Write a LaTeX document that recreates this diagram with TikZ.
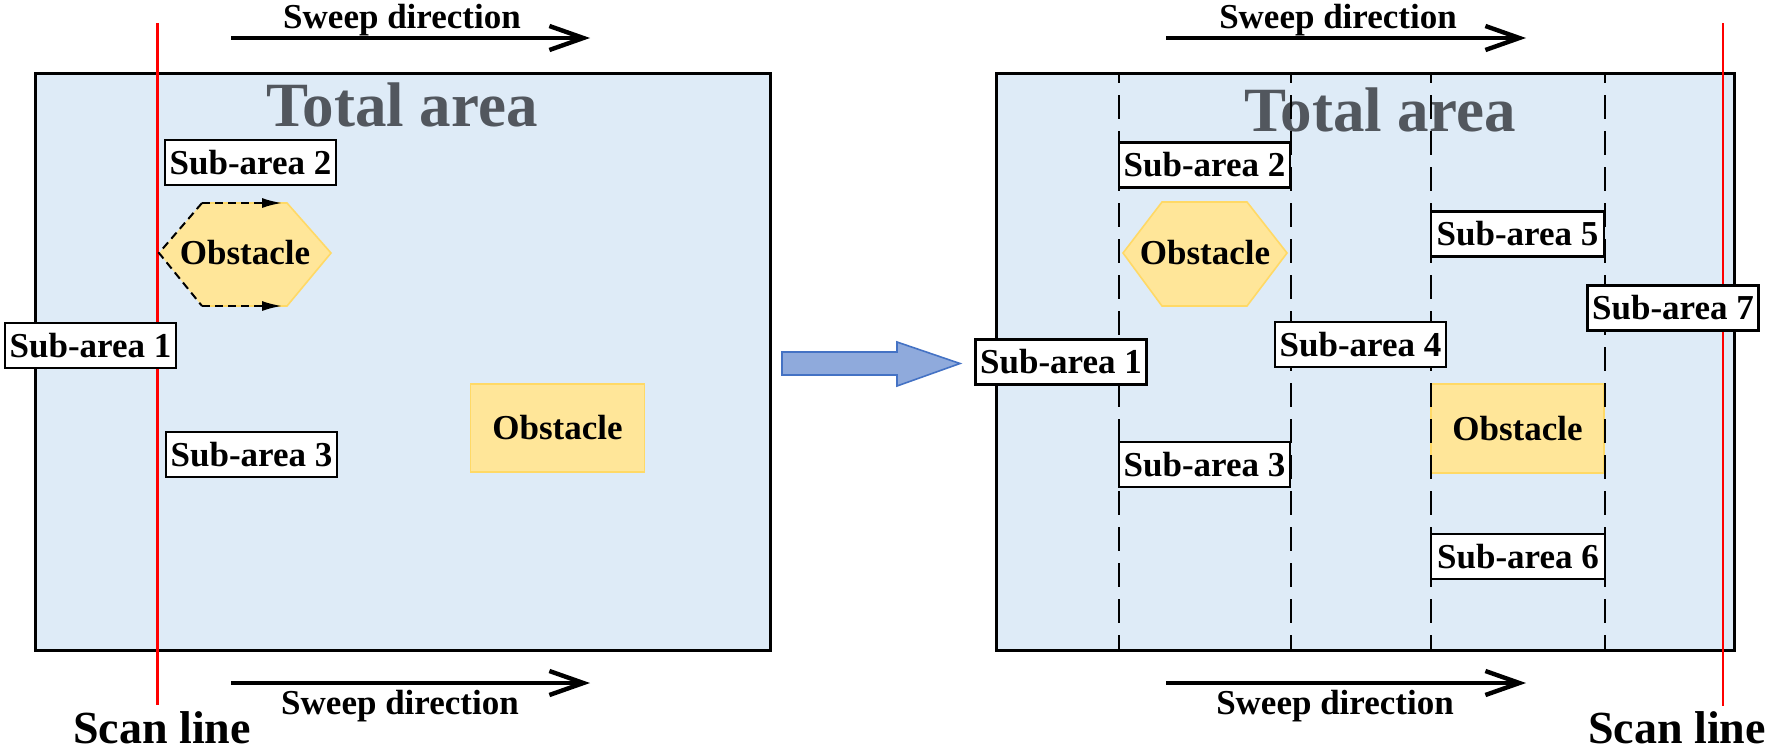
\documentclass[tikz,border=0pt]{standalone}
\usepackage{fontspec}
\setmainfont{Liberation Serif}
\usetikzlibrary{arrows.meta}
\definecolor{areabg}{HTML}{DEEBF7}
\definecolor{obsfill}{HTML}{FFE699}
\definecolor{obsline}{HTML}{FFD966}
\definecolor{titlegray}{HTML}{52575E}
\definecolor{arrfill}{HTML}{8FAADC}
\definecolor{arrline}{HTML}{4472C4}
\definecolor{scanred}{HTML}{FF0000}
\begin{document}
\begin{tikzpicture}[x=0.5pt,y=-0.5pt,
  area/.style={draw=black,line width=1.5pt,fill=areabg},
  lblfont/.style={font=\fontsize{17.5}{20}\selectfont\bfseries},
  subbox/.style={lblfont,draw=black,line width=1.1pt,fill=white,minimum width=85.5pt,minimum height=22.5pt,inner sep=0pt},
  obsbox/.style={lblfont,draw=obsline,line width=0.8pt,fill=obsfill,minimum width=87pt,minimum height=44pt,inner sep=0pt},
  titletext/.style={font=\fontsize{31.5}{36}\selectfont\bfseries,text=titlegray,anchor=base,inner sep=0pt},
  sweeptext/.style={lblfont,anchor=base,inner sep=0pt},
  scantext/.style={font=\fontsize{23}{26}\selectfont\bfseries,anchor=base,inner sep=0pt},
  sweeparrow/.style={line width=2.2pt,-{Straight Barb[length=17pt,width=12pt]}},
  scanline/.style={draw=scanred,line width=1.2pt},
  divline/.style={draw=black,line width=1.4pt,dash pattern=on 12pt off 6pt,dash phase=7pt},
  hexdash/.style={draw=black,line width=1pt,dash pattern=on 4pt off 2.5pt},
  bigarrow/.style={fill=arrfill,draw=arrline,line width=0.8pt}
]
\useasboundingbox (0,0) rectangle (1770,750);

% ================= LEFT =================
\path[area] (35,73) rectangle (770,650);
\node[titletext] (tal) at (402,126) {Total area};

% scan line (left)
\coordinate (scl1) at (157.5,23);
\coordinate (scl2) at (157.5,705);
\draw[scanline] (scl1) -- (scl2);

% hexagon obstacle (left)
\coordinate (hl1) at (159,253);
\coordinate (hl2) at (202,203);
\coordinate (hl3) at (287,203);
\coordinate (hl4) at (331,253);
\coordinate (hl5) at (287,306);
\coordinate (hl6) at (202,306);
\fill[obsfill] (hl1) -- (hl2) -- (hl3) -- (hl4) -- (hl5) -- (hl6) -- cycle;
\draw[obsline,line width=0.8pt] (hl2) -- (hl3) -- (hl4) -- (hl5) -- (hl6);
\draw[hexdash] (hl2) -- (hl1) -- (hl6);
\coordinate (hlt) at (282,203);
\coordinate (hlb) at (282,306);
\draw[hexdash,-{Latex[length=10pt,width=5pt]}] (hl2) -- (hlt);
\draw[hexdash,-{Latex[length=10pt,width=5pt]}] (hl6) -- (hlb);
\node[lblfont,inner sep=0pt] (hexl) at (245,253) {Obstacle};

% rectangular obstacle (left)
\node[obsbox] (obsl) at (557.5,428) {Obstacle};

% sub-areas (left)
\node[subbox] (sa1l) at (90.5,345.5) {Sub-area 1};
\node[subbox] (sa2l) at (250.5,162.5) {Sub-area 2};
\node[subbox] (sa3l) at (251.5,454.5) {Sub-area 3};

% sweep arrows (left)
\coordinate (swla1) at (231,38);
\coordinate (swla2) at (590,38);
\draw[sweeparrow] (swla1) -- (swla2);
\node[sweeptext] (swlt) at (402,28) {Sweep direction};
\coordinate (swlb1) at (231,683);
\coordinate (swlb2) at (590,683);
\draw[sweeparrow] (swlb1) -- (swlb2);
\node[sweeptext] (swlbt) at (400,714) {Sweep direction};
\node[scantext] (scanl) at (162,743) {Scan line};

% ================= TRANSITION ARROW =================
\draw[bigarrow] (782,352) -- (897,352) -- (897,342) -- (960,363.5) -- (897,386) -- (897,375) -- (782,375) -- cycle;

% ================= RIGHT =================
\path[area] (996,73) rectangle (1734,650);
\node[titletext] (tar) at (1380,131) {Total area};

% hexagon obstacle (right)
\coordinate (hr1) at (1123,253);
\coordinate (hr2) at (1162,202);
\coordinate (hr3) at (1247,202);
\coordinate (hr4) at (1287,253);
\coordinate (hr5) at (1247,306);
\coordinate (hr6) at (1162,306);
\path[fill=obsfill,draw=obsline,line width=0.8pt] (hr1) -- (hr2) -- (hr3) -- (hr4) -- (hr5) -- (hr6) -- cycle;

% rectangular obstacle (right)
\node[obsbox,minimum width=86.5pt,minimum height=44.5pt] (obsr) at (1517.5,428.5) {};

% division lines
\foreach \xx/\nm in {1119/d1,1291/d2,1431/d3,1605/d4}{
  \coordinate (\nm t) at (\xx,73);
  \coordinate (\nm b) at (\xx,650);
  \draw[divline] (\nm t) -- (\nm b);
}
\node[lblfont,inner sep=0pt] (hexr) at (1205,253) {Obstacle};
\node[lblfont,inner sep=0pt] (obsrt) at (obsr.center) {Obstacle};

% scan line (right)
\coordinate (scr1) at (1723,23);
\coordinate (scr2) at (1723,706);
\draw[scanline] (scr1) -- (scr2);

% sub-areas (right)
\node[subbox] (sa1r) at (1061,362) {Sub-area 1};
\node[subbox] (sa2r) at (1204.5,165) {Sub-area 2};
\node[subbox] (sa3r) at (1204.5,464.5) {Sub-area 3};
\node[subbox] (sa4r) at (1360.5,344.5) {Sub-area 4};
\node[subbox,minimum width=86.5pt] (sa5r) at (1517.5,234) {Sub-area 5};
\node[subbox,minimum width=87pt] (sa6r) at (1518,556.5) {Sub-area 6};
\node[subbox] (sa7r) at (1673,308) {Sub-area 7};

% sweep arrows (right)
\coordinate (swra1) at (1166,38);
\coordinate (swra2) at (1526,38);
\draw[sweeparrow] (swra1) -- (swra2);
\node[sweeptext] (swrt) at (1338,28) {Sweep direction};
\coordinate (swrb1) at (1166,683);
\coordinate (swrb2) at (1526,683);
\draw[sweeparrow] (swrb1) -- (swrb2);
\node[sweeptext] (swrbt) at (1335,714) {Sweep direction};
\node[scantext] (scanr) at (1677,743) {Scan line};
\end{tikzpicture}
\end{document}
